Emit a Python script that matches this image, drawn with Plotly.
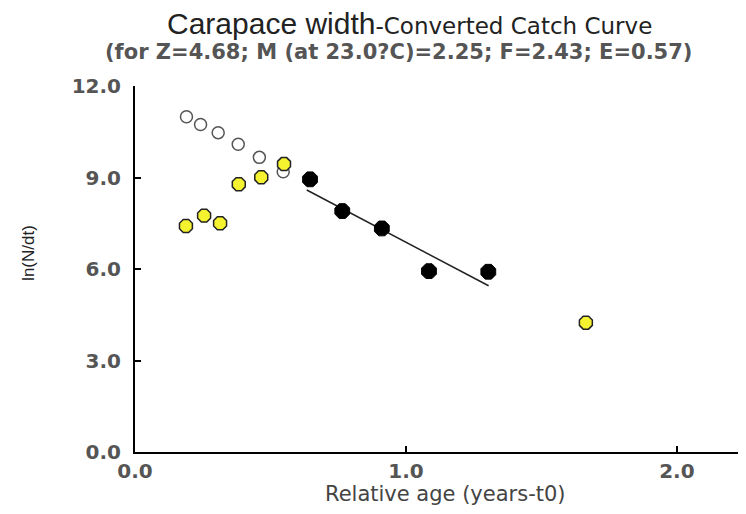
import plotly.graph_objects as go

# converted catch curve data
open_age = [0.19, 0.242, 0.307, 0.381, 0.459, 0.547]
open_ln = [10.99, 10.74, 10.47, 10.09, 9.66, 9.19]

yellow_age = [0.188, 0.255, 0.314, 0.383, 0.466, 0.55, 1.664]
yellow_ln = [7.41, 7.75, 7.50, 8.78, 9.01, 9.44, 4.24]

used_age = [0.646, 0.765, 0.911, 1.085, 1.304]
used_ln = [8.94, 7.90, 7.33, 5.93, 5.91]

fit_age = [0.634, 1.305]
fit_ln = [8.59, 5.45]

x_ticks = [0.0, 1.0, 2.0]
y_ticks = [0.0, 3.0, 6.0, 9.0, 12.0]

fig = go.Figure()

fig.add_trace(go.Scatter(x=open_age, y=open_ln, mode='markers',
                         marker=dict(symbol='circle', size=12, color='white',
                                     line=dict(color='#555555', width=1.5))))
fig.add_trace(go.Scatter(x=yellow_age, y=yellow_ln, mode='markers',
                         marker=dict(symbol='octagon', size=14, color='#f5f230',
                                     line=dict(color='#222222', width=1.5))))
fig.add_trace(go.Scatter(x=fit_age, y=fit_ln, mode='lines',
                         line=dict(color='#222222', width=1.5)))
fig.add_trace(go.Scatter(x=used_age, y=used_ln, mode='markers',
                         marker=dict(symbol='octagon', size=16, color='black',
                                     line=dict(color='black', width=1))))

tick_font = dict(family='DejaVu Sans', size=20, color='#555555', weight='bold')

# page body has an 8px margin, so the figure is shifted by 8px
fig.update_layout(
    width=746, height=514,
    margin=dict(l=127, r=8, t=78, b=70),
    paper_bgcolor='white', plot_bgcolor='white',
    showlegend=False,
    xaxis=dict(range=[0, 2.255], tickvals=x_ticks,
               ticktext=['%.1f' % v for v in x_ticks],
               showgrid=False, zeroline=False, showline=True,
               linecolor='black', linewidth=2, ticks='inside', ticklen=6,
               tickcolor='black', tickwidth=2, tickfont=tick_font),
    yaxis=dict(range=[0, 12], tickvals=y_ticks,
               ticktext=['%.1f' % v for v in y_ticks],
               showgrid=False, zeroline=False, showline=True,
               linecolor='black', linewidth=2, ticks='inside', ticklen=6,
               tickcolor='black', tickwidth=2, tickfont=tick_font,
               ticklabelstandoff=8),
)

fig.add_annotation(text='<span style="font-family:Liberation Sans;font-size:30px">Carapace width</span>-Converted Catch Curve',
                   xref='paper', yref='paper', x=0.449, y=1.0, yshift=63, yanchor='middle',
                   showarrow=False, font=dict(family='DejaVu Sans', size=23, color='#222222'))
fig.add_annotation(text='(for Z=4.68; M (at 23.0?C)=2.25; F=2.43; E=0.57)',
                   xref='paper', yref='paper', x=0.432, y=1.0, yshift=34, yanchor='middle',
                   showarrow=False, font=dict(family='DejaVu Sans', size=21, color='#555555', weight='bold'))
fig.add_annotation(text='Relative age (years-t0)',
                   xref='paper', yref='paper', x=0.509, y=0, yshift=-42, yanchor='middle',
                   showarrow=False, font=dict(family='DejaVu Sans', size=21, color='#444444'))
fig.add_annotation(text='ln(N/dt)', textangle=-90,
                   xref='paper', yref='paper', x=-0.1735, y=0.544, xanchor='center', yanchor='middle',
                   showarrow=False, font=dict(family='Liberation Sans', size=17, color='#222222'))

fig.write_html("out.html")
